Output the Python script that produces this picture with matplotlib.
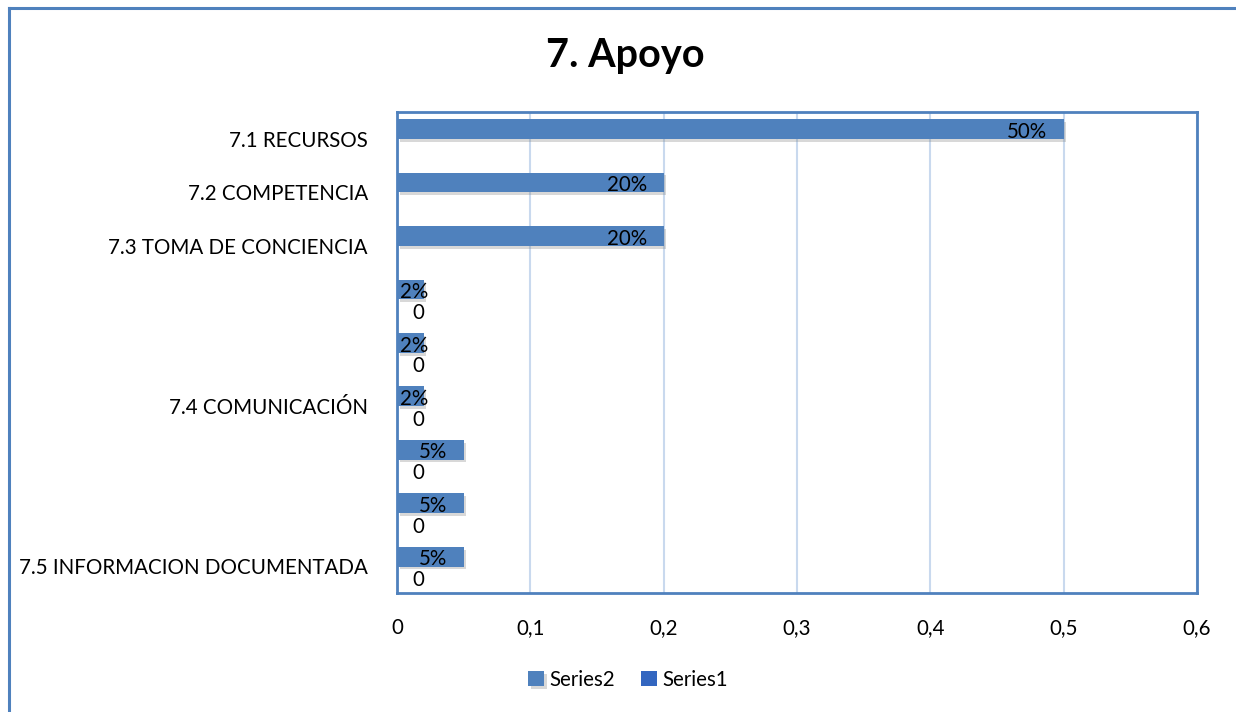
import matplotlib.pyplot as plt
import matplotlib.patheffects as pe
from matplotlib.lines import Line2D
import numpy as np

plt.rcParams['font.family'] = ['Lato', 'DejaVu Sans']

categories = ["7.1 RECURSOS", "7.2 COMPETENCIA", "7.3 TOMA DE CONCIENCIA", "", "",
              "7.4 COMUNICACIÓN", "", "", "7.5 INFORMACION DOCUMENTADA"]
series2 = [0.50, 0.20, 0.20, 0.02, 0.02, 0.02, 0.05, 0.05, 0.05]
series1 = [None, None, None, 0, 0, 0, 0, 0, 0]
series2_labels = ["50%", "20%", "20%", "2%", "2%", "2%", "5%", "5%", "5%"]
xticks = [0, 0.1, 0.2, 0.3, 0.4, 0.5, 0.6]
xtick_labels = ["0", "0,1", "0,2", "0,3", "0,4", "0,5", "0,6"]

c2 = "#4F81BD"
c1 = "#3366C0"
frame = "#4F81BD"
fs = 14.8

fig = plt.figure(figsize=(12.36, 7.12), dpi=100)
ax = fig.add_axes([397 / 1236, 1 - 593 / 712, 800 / 1236, 481 / 712])

y = np.arange(len(categories))
h = 0.37
shadow = [pe.SimplePatchShadow(offset=(2, -2), alpha=0.3, shadow_rgbFace="#808080"), pe.Normal()]
ax.barh(y - 0.18, series2, height=h, color=c2, label="Series2", path_effects=shadow, zorder=3)
s1 = [0 if v is None else v for v in series1]
ax.barh(y + 0.18, s1, height=h, color=c1, label="Series1", zorder=3)

ax.set_xlim(0, 0.6)
ax.set_ylim(len(categories) - 0.5, -0.5)
ax.set_xticks(xticks)
ax.set_xticklabels(xtick_labels, fontsize=fs)
ax.set_yticks(y)
ax.set_yticklabels(categories, fontsize=fs)
ax.tick_params(axis='both', length=0)
ax.tick_params(axis='x', pad=18)
ax.tick_params(axis='y', pad=21)
ax.grid(axis='x', color="#C9D9EE", linewidth=1.5, zorder=0)
for s in ax.spines.values():
    s.set_color(frame)
    s.set_linewidth(2)

texts = []
for i, (v, lab) in enumerate(zip(series2, series2_labels)):
    t = ax.annotate(lab, xy=(v, i - 0.13), xytext=(-12, 0), textcoords="offset points",
                    ha="right", va="center", fontsize=fs, zorder=5)
    texts.append((t, i))
for i, v in enumerate(series1):
    if v is not None:
        ax.annotate(f"{v}", xy=(v, i + 0.26), xytext=(11, 0), textcoords="offset points",
                    ha="left", va="center", fontsize=fs, zorder=5)

# keep inside-end labels from spilling past the axis
fig.canvas.draw()
r = fig.canvas.get_renderer()
ax_x0 = ax.get_window_extent(r).x0
for t, i in texts:
    if t.get_window_extent(r).x0 < ax_x0 + 3:
        t.xy = (0, i - 0.13)
        t.set_position((2, 0))
        t.set_ha("left")

fig.text(0.506, 0.922, "7. Apoyo", ha="center", va="center", fontsize=28.5, fontweight="bold")

ax.legend(loc="center", bbox_to_anchor=(628 / 1236, 1 - 680 / 712), bbox_transform=fig.transFigure,
          ncol=2, frameon=False, fontsize=fs, handlelength=0.75, handleheight=0.75,
          handletextpad=0.25, columnspacing=1.3)

fig.add_artist(Line2D([8.5 / 1236, 8.5 / 1236], [0, 1 - 7.5 / 712], color=frame, linewidth=2.2,
                      transform=fig.transFigure))
fig.add_artist(Line2D([8.5 / 1236, 1], [1 - 7.5 / 712, 1 - 7.5 / 712], color=frame, linewidth=2.2,
                      transform=fig.transFigure))

fig.savefig("out.png", dpi=100)
